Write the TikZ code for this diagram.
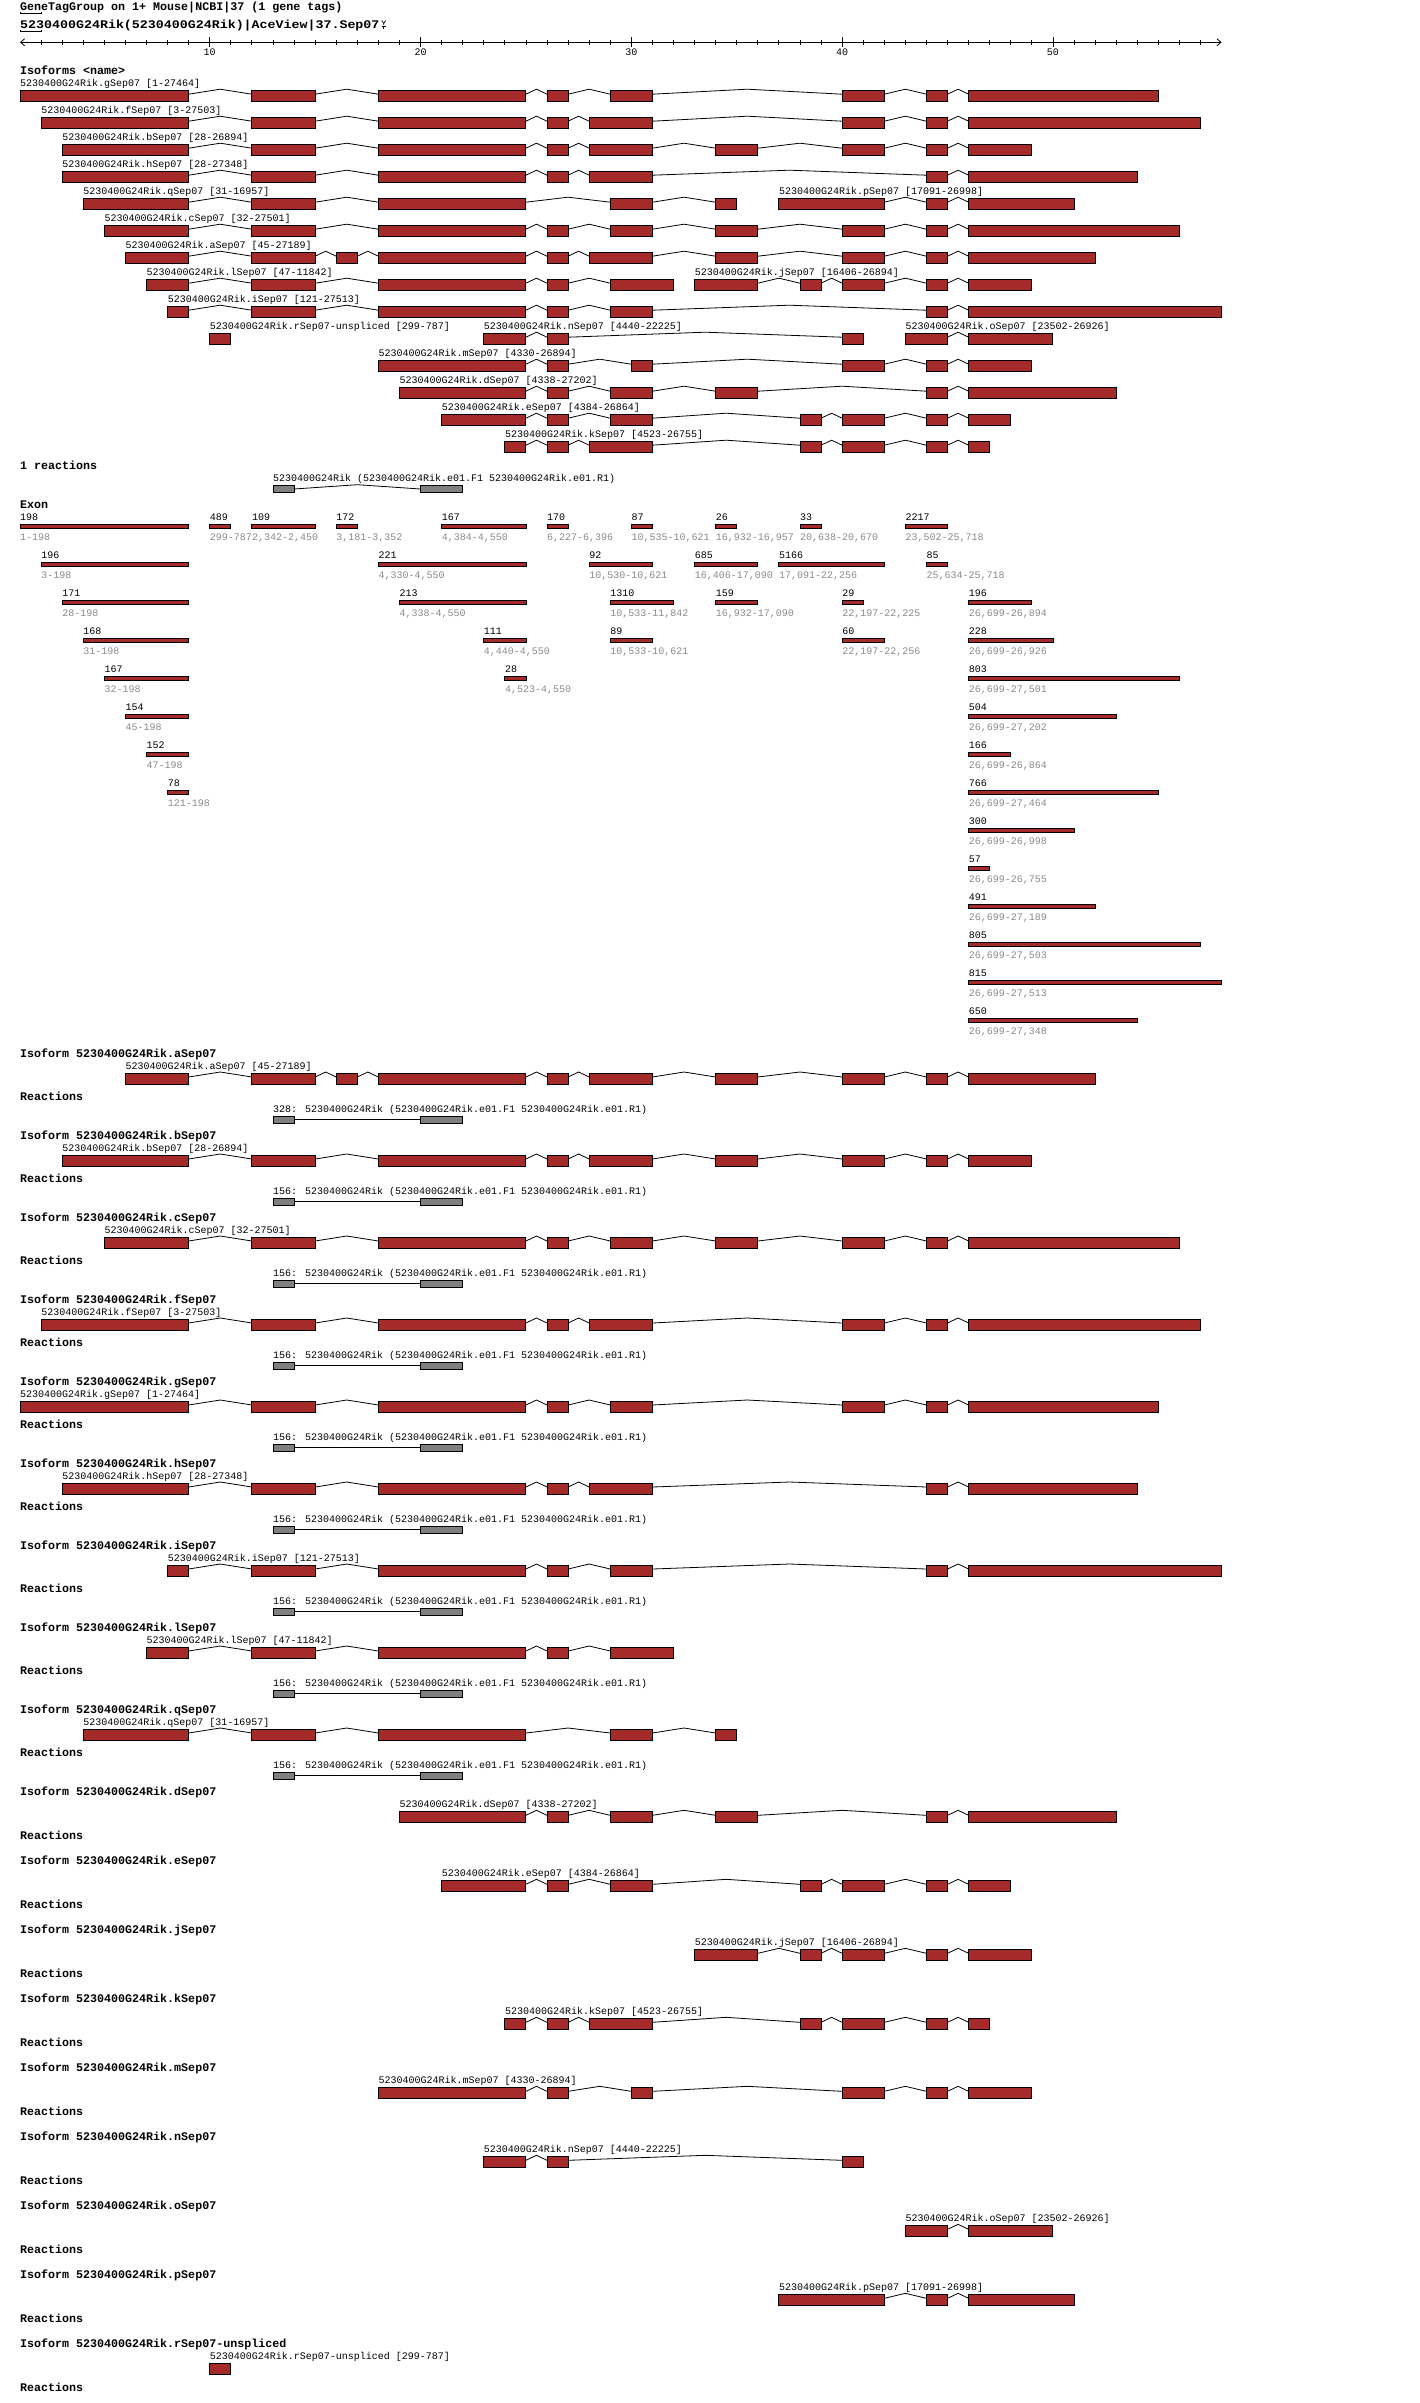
\documentclass[tikz,border=0pt]{standalone}
\usepackage{fontspec}
\usetikzlibrary{arrows.meta,positioning}
\newfontfamily\acefont{Liberation Mono}
\definecolor{aceblock}{HTML}{A52A2A}
\definecolor{acegray}{HTML}{808080}
\definecolor{acerange}{HTML}{8A8A8A}

\tikzset{
  exonblk/.style={fill=aceblock,draw=black,line width=0.9pt},
  exonbar/.style={fill=aceblock,draw=black,line width=0.8pt},
  primerblk/.style={fill=acegray,draw=black,line width=0.9pt},
  intron/.style={draw=black,line width=0.8pt},
  isolbl/.style={anchor=base west,inner sep=0pt,font=\acefont\fontsize{10}{10}\selectfont},
  rnglbl/.style={isolbl,text=acerange},
  headlbl/.style={anchor=base west,inner sep=0pt,font=\acefont\bfseries\fontsize{11.67}{12}\selectfont},
}

% one isoform: name, top y, label column, label, block list
\newcommand{\isoform}[5]{%
  \node[isolbl] (#1) at (#3,#2-4) {#4};
  \foreach \s/\e [remember=\e as \prevend (initially 0)] in #5 {
    \ifnum\prevend>0
      \draw[intron] (\prevend,#2+3.7) -- ({(\prevend+\s)/2},#2-1.3) -- (\s,#2+3.7);
    \fi
    \draw[exonblk] (\s,#2) rectangle (\e,#2+11);
  }
}
% primer pair under an isoform section: name, heading y, count
\newcommand{\sectreaction}[3]{%
  \node[headlbl] (#1hd) at (1,#2+46.8) {Reactions};
  \node[isolbl] (#1) at (13,#2+58.8)
    {#3: 5230400G24Rik (5230400G24Rik.e01.F1 5230400G24Rik.e01.R1)};
  \draw[primerblk] (13,#2+62.3) rectangle (14,#2+69.3);
  \draw[primerblk] (20,#2+62.3) rectangle (22,#2+69.3);
  \draw[intron] (14,#2+65.8) -- (20,#2+65.8);
}

% block lists (grid columns)
\newcommand{\blkG}{1/9,12/15,18/25,26/27,29/31,40/42,44/45,46/55}
\newcommand{\blkF}{2/9,12/15,18/25,26/27,28/31,40/42,44/45,46/57}
\newcommand{\blkB}{3/9,12/15,18/25,26/27,28/31,34/36,40/42,44/45,46/49}
\newcommand{\blkH}{3/9,12/15,18/25,26/27,28/31,44/45,46/54}
\newcommand{\blkQ}{4/9,12/15,18/25,29/31,34/35}
\newcommand{\blkP}{37/42,44/45,46/51}
\newcommand{\blkC}{5/9,12/15,18/25,26/27,29/31,34/36,40/42,44/45,46/56}
\newcommand{\blkA}{6/9,12/15,16/17,18/25,26/27,28/31,34/36,40/42,44/45,46/52}
\newcommand{\blkL}{7/9,12/15,18/25,26/27,29/32}
\newcommand{\blkJ}{33/36,38/39,40/42,44/45,46/49}
\newcommand{\blkI}{8/9,12/15,18/25,26/27,29/31,44/45,46/58}
\newcommand{\blkR}{10/11}
\newcommand{\blkN}{23/25,26/27,40/41}
\newcommand{\blkO}{43/45,46/50}
\newcommand{\blkM}{18/25,26/27,30/31,40/42,44/45,46/49}
\newcommand{\blkD}{19/25,26/27,29/31,34/36,44/45,46/53}
\newcommand{\blkE}{21/25,26/27,29/31,38/39,40/42,44/45,46/48}
\newcommand{\blkK}{24/25,26/27,28/31,38/39,40/42,44/45,46/47}

\begin{document}
\begin{tikzpicture}[x=21.08pt,y=-1pt]
  \useasboundingbox[fill=white] (0pt,0pt) rectangle (1420pt,-2403pt);
  \begin{scope}[xshift=-1.08pt]

  % ---- Title lines -------------------------------------------
  \node[headlbl] (title1) at (1,11) {GeneTagGroup on 1+ Mouse|NCBI|37 (1 gene tags)};
  \node[headlbl,xscale=1.14] (title2) at (1,28.5) {5230400G24Rik(5230400G24Rik)|AceView|37.Sep07};
  \draw[intron] (1,12) -- (1,13.6) -- (2,13.6) -- (2,12);
  \draw[intron] (1,30) -- (1,31.6) -- (2,31.6) -- (2,30);
  \draw[line width=0.7pt] ([xshift=2pt,yshift=8pt]title2.base east)
    -- ++(2pt,-3pt) -- ++(2pt,3pt) ++(-2pt,-3pt) -- ++(0pt,-1.5pt);
  \draw[line width=0.7pt] ([xshift=2pt,yshift=2.5pt]title2.base east)
    -- ++(4pt,0pt) ++(-2pt,0pt) -- ++(0pt,-3pt);

  % ---- Scale axis --------------------------------------------
  \draw[line width=0.8pt,{Straight Barb[length=4pt,width=7pt]}-{Straight Barb[length=4pt,width=7pt]}]
    (1,42.3) -- (58,42.3);
  \foreach \v in {2,...,57}
    \draw[line width=0.8pt] (\v,40) -- (\v,44.6);
  \foreach \v in {10,20,...,50}{
    \draw[line width=0.8pt] (\v,37.5) -- (\v,47.5);
    \node[isolbl,anchor=base] (tick\v) at (\v,55.8) {\v};
  }

  % ---- Isoforms overview -------------------------------------
  \node[headlbl] (isohd) at (1,74.5) {Isoforms <name>};
  \isoform{isoG}{90.5}{1}{5230400G24Rik.gSep07 [1-27464]}{\blkG}
  \isoform{isoF}{117.5}{2}{5230400G24Rik.fSep07 [3-27503]}{\blkF}
  \isoform{isoB}{144.5}{3}{5230400G24Rik.bSep07 [28-26894]}{\blkB}
  \isoform{isoH}{171.5}{3}{5230400G24Rik.hSep07 [28-27348]}{\blkH}
  \isoform{isoQ}{198.5}{4}{5230400G24Rik.qSep07 [31-16957]}{\blkQ}
  \isoform{isoP}{198.5}{37}{5230400G24Rik.pSep07 [17091-26998]}{\blkP}
  \isoform{isoC}{225.5}{5}{5230400G24Rik.cSep07 [32-27501]}{\blkC}
  \isoform{isoA}{252.5}{6}{5230400G24Rik.aSep07 [45-27189]}{\blkA}
  \isoform{isoL}{279.5}{7}{5230400G24Rik.lSep07 [47-11842]}{\blkL}
  \isoform{isoJ}{279.5}{33}{5230400G24Rik.jSep07 [16406-26894]}{\blkJ}
  \isoform{isoI}{306.5}{8}{5230400G24Rik.iSep07 [121-27513]}{\blkI}
  \isoform{isoR}{333.5}{10}{5230400G24Rik.rSep07-unspliced [299-787]}{\blkR}
  \isoform{isoN}{333.5}{23}{5230400G24Rik.nSep07 [4440-22225]}{\blkN}
  \isoform{isoO}{333.5}{43}{5230400G24Rik.oSep07 [23502-26926]}{\blkO}
  \isoform{isoM}{360.5}{18}{5230400G24Rik.mSep07 [4330-26894]}{\blkM}
  \isoform{isoD}{387.5}{19}{5230400G24Rik.dSep07 [4338-27202]}{\blkD}
  \isoform{isoE}{414.5}{21}{5230400G24Rik.eSep07 [4384-26864]}{\blkE}
  \isoform{isoK}{441.5}{24}{5230400G24Rik.kSep07 [4523-26755]}{\blkK}

  % ---- Reaction summary --------------------------------------
  \node[headlbl] (rxnhd) at (1,469.5) {1 reactions};
  \node[isolbl] (rxn) at (13,481.8)
    {5230400G24Rik (5230400G24Rik.e01.F1 5230400G24Rik.e01.R1)};
  \draw[primerblk] (13,485.7) rectangle (14,492.3);
  \draw[primerblk] (20,485.7) rectangle (22,492.3);
  \draw[intron] (14,489) -- (17,484.7) -- (20,489);

  % ---- Exon table --------------------------------------------
  \node[headlbl] (exonhd) at (1,508.5) {Exon};
  \foreach \r/\s/\e/\n/\g in {
      0/1/9/198/1-198, 0/10/11/489/299-787, 0/12/15/109/{2,342-2,450},
      0/16/17/172/{3,181-3,352}, 0/21/25/167/{4,384-4,550}, 0/26/27/170/{6,227-6,396},
      0/30/31/87/{10,535-10,621}, 0/34/35/26/{16,932-16,957}, 0/38/39/33/{20,638-20,670},
      0/43/45/2217/{23,502-25,718},
      1/2/9/196/3-198, 1/18/25/221/{4,330-4,550}, 1/28/31/92/{10,530-10,621},
      1/33/36/685/{16,406-17,090}, 1/37/42/5166/{17,091-22,256}, 1/44/45/85/{25,634-25,718},
      2/3/9/171/28-198, 2/19/25/213/{4,338-4,550}, 2/29/32/1310/{10,533-11,842},
      2/34/36/159/{16,932-17,090}, 2/40/41/29/{22,197-22,225}, 2/46/49/196/{26,699-26,894},
      3/4/9/168/31-198, 3/23/25/111/{4,440-4,550}, 3/29/31/89/{10,533-10,621},
      3/40/42/60/{22,197-22,256}, 3/46/50/228/{26,699-26,926},
      4/5/9/167/32-198, 4/24/25/28/{4,523-4,550}, 4/46/56/803/{26,699-27,501},
      5/6/9/154/45-198, 5/46/53/504/{26,699-27,202},
      6/7/9/152/47-198, 6/46/48/166/{26,699-26,864},
      7/8/9/78/121-198, 7/46/55/766/{26,699-27,464},
      8/46/51/300/{26,699-26,998}, 9/46/47/57/{26,699-26,755},
      10/46/52/491/{26,699-27,189}, 11/46/57/805/{26,699-27,503},
      12/46/58/815/{26,699-27,513}, 13/46/54/650/{26,699-27,348}}{
    \node[isolbl] (exn\r-\s) at (\s,520.5+38*\r) {\n};
    \draw[exonbar] (\s,524.5+38*\r) rectangle (\e,528+38*\r);
    \node[rnglbl] (rng\r-\s) at (\s,540.5+38*\r) {\g};
  }

  % ---- Isoform sections with reactions -----------------------
  \node[headlbl] (secA) at (1,1057.5) {Isoform 5230400G24Rik.aSep07};
  \isoform{secisoA}{1073.3}{6}{5230400G24Rik.aSep07 [45-27189]}{\blkA}
  \sectreaction{rxnA}{1054}{328}

  \node[headlbl] (secB) at (1,1139.5) {Isoform 5230400G24Rik.bSep07};
  \isoform{secisoB}{1155.3}{3}{5230400G24Rik.bSep07 [28-26894]}{\blkB}
  \sectreaction{rxnB}{1136}{156}

  \node[headlbl] (secC) at (1,1221.5) {Isoform 5230400G24Rik.cSep07};
  \isoform{secisoC}{1237.3}{5}{5230400G24Rik.cSep07 [32-27501]}{\blkC}
  \sectreaction{rxnC}{1218}{156}

  \node[headlbl] (secF) at (1,1303.5) {Isoform 5230400G24Rik.fSep07};
  \isoform{secisoF}{1319.3}{2}{5230400G24Rik.fSep07 [3-27503]}{\blkF}
  \sectreaction{rxnF}{1300}{156}

  \node[headlbl] (secG) at (1,1385.5) {Isoform 5230400G24Rik.gSep07};
  \isoform{secisoG}{1401.3}{1}{5230400G24Rik.gSep07 [1-27464]}{\blkG}
  \sectreaction{rxnG}{1382}{156}

  \node[headlbl] (secH) at (1,1467.5) {Isoform 5230400G24Rik.hSep07};
  \isoform{secisoH}{1483.3}{3}{5230400G24Rik.hSep07 [28-27348]}{\blkH}
  \sectreaction{rxnH}{1464}{156}

  \node[headlbl] (secI) at (1,1549.5) {Isoform 5230400G24Rik.iSep07};
  \isoform{secisoI}{1565.3}{8}{5230400G24Rik.iSep07 [121-27513]}{\blkI}
  \sectreaction{rxnI}{1546}{156}

  \node[headlbl] (secL) at (1,1631.5) {Isoform 5230400G24Rik.lSep07};
  \isoform{secisoL}{1647.3}{7}{5230400G24Rik.lSep07 [47-11842]}{\blkL}
  \sectreaction{rxnL}{1628}{156}

  \node[headlbl] (secQ) at (1,1713.5) {Isoform 5230400G24Rik.qSep07};
  \isoform{secisoQ}{1729.3}{4}{5230400G24Rik.qSep07 [31-16957]}{\blkQ}
  \sectreaction{rxnQ}{1710}{156}

  % ---- Isoform sections without reactions --------------------
  \node[headlbl] (secD) at (1,1795.8) {Isoform 5230400G24Rik.dSep07};
  \isoform{secisoD}{1811.6}{19}{5230400G24Rik.dSep07 [4338-27202]}{\blkD}
  \node[headlbl] (rxnDhd) at (1,1839.1) {Reactions};

  \node[headlbl] (secE) at (1,1864.8) {Isoform 5230400G24Rik.eSep07};
  \isoform{secisoE}{1880.6}{21}{5230400G24Rik.eSep07 [4384-26864]}{\blkE}
  \node[headlbl] (rxnEhd) at (1,1908.1) {Reactions};

  \node[headlbl] (secJ) at (1,1933.8) {Isoform 5230400G24Rik.jSep07};
  \isoform{secisoJ}{1949.6}{33}{5230400G24Rik.jSep07 [16406-26894]}{\blkJ}
  \node[headlbl] (rxnJhd) at (1,1977.1) {Reactions};

  \node[headlbl] (secK) at (1,2002.8) {Isoform 5230400G24Rik.kSep07};
  \isoform{secisoK}{2018.6}{24}{5230400G24Rik.kSep07 [4523-26755]}{\blkK}
  \node[headlbl] (rxnKhd) at (1,2046.1) {Reactions};

  \node[headlbl] (secM) at (1,2071.8) {Isoform 5230400G24Rik.mSep07};
  \isoform{secisoM}{2087.6}{18}{5230400G24Rik.mSep07 [4330-26894]}{\blkM}
  \node[headlbl] (rxnMhd) at (1,2115.1) {Reactions};

  \node[headlbl] (secN) at (1,2140.8) {Isoform 5230400G24Rik.nSep07};
  \isoform{secisoN}{2156.6}{23}{5230400G24Rik.nSep07 [4440-22225]}{\blkN}
  \node[headlbl] (rxnNhd) at (1,2184.1) {Reactions};

  \node[headlbl] (secO) at (1,2209.8) {Isoform 5230400G24Rik.oSep07};
  \isoform{secisoO}{2225.6}{43}{5230400G24Rik.oSep07 [23502-26926]}{\blkO}
  \node[headlbl] (rxnOhd) at (1,2253.1) {Reactions};

  \node[headlbl] (secP) at (1,2278.8) {Isoform 5230400G24Rik.pSep07};
  \isoform{secisoP}{2294.6}{37}{5230400G24Rik.pSep07 [17091-26998]}{\blkP}
  \node[headlbl] (rxnPhd) at (1,2322.1) {Reactions};

  \node[headlbl] (secR) at (1,2347.8) {Isoform 5230400G24Rik.rSep07-unspliced};
  \isoform{secisoR}{2363.6}{10}{5230400G24Rik.rSep07-unspliced [299-787]}{\blkR}
  \node[headlbl] (rxnRhd) at (1,2391.1) {Reactions};

  \end{scope}
\end{tikzpicture}
\end{document}
